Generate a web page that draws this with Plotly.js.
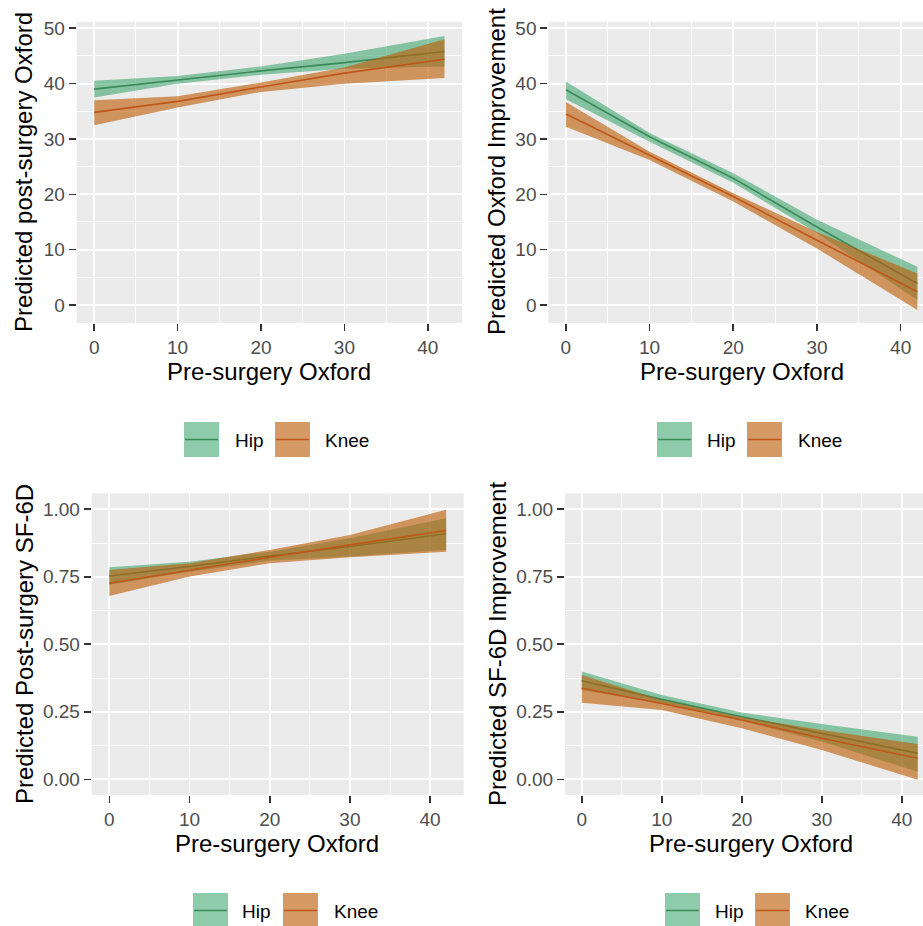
<!DOCTYPE html>
<html>
<head>
<meta charset="utf-8">
<script src="https://cdn.plot.ly/plotly-3.0.1.min.js"></script>
<style>html,body{margin:0;padding:0;background:#fff;}#chart{width:923px;height:926px;}</style>
</head>
<body>
<div id="chart"></div>
<script>
// ---- data ----
const preOxford = [0, 10, 20, 30, 42];

// Panel A: predicted post-surgery Oxford
const postOxHipFit   = [39.0, 40.7, 42.3, 43.8, 45.8];
const postOxHipLow   = [37.5, 40.0, 41.6, 42.7, 43.1];
const postOxHipHigh  = [40.5, 41.4, 43.1, 45.4, 48.6];
const postOxKneeFit  = [34.8, 36.8, 39.4, 41.9, 44.4];
const postOxKneeLow  = [32.5, 35.7, 38.5, 40.0, 41.0];
const postOxKneeHigh = [37.0, 37.7, 40.2, 42.9, 48.0];

// Panel B: predicted Oxford improvement
const impOxHipFit   = [38.9, 30.4, 22.9, 14.1, 3.9];
const impOxHipLow   = [37.2, 29.5, 22.1, 13.0, 0.9];
const impOxHipHigh  = [40.4, 31.1, 23.8, 15.4, 6.9];
const impOxKneeFit  = [34.5, 27.1, 19.6, 11.7, 2.4];
const impOxKneeLow  = [32.2, 26.2, 18.7, 10.2, -0.9];
const impOxKneeHigh = [36.7, 27.7, 20.2, 13.2, 5.7];

// Panel C: predicted post-surgery SF-6D
const postSfHipFit   = [0.753, 0.788, 0.827, 0.862, 0.909];
const postSfHipLow   = [0.720, 0.769, 0.810, 0.825, 0.850];
const postSfHipHigh  = [0.785, 0.806, 0.843, 0.893, 0.967];
const postSfKneeFit  = [0.726, 0.775, 0.822, 0.868, 0.921];
const postSfKneeLow  = [0.679, 0.751, 0.800, 0.822, 0.843];
const postSfKneeHigh = [0.775, 0.800, 0.849, 0.905, 0.998];

// Panel D: predicted SF-6D improvement
const impSfHipFit   = [0.365, 0.296, 0.232, 0.170, 0.096];
const impSfHipLow   = [0.331, 0.281, 0.217, 0.140, 0.028];
const impSfHipHigh  = [0.399, 0.312, 0.247, 0.205, 0.158];
const impSfKneeFit  = [0.337, 0.281, 0.220, 0.152, 0.078];
const impSfKneeLow  = [0.284, 0.257, 0.189, 0.109, -0.002];
const impSfKneeHigh = [0.386, 0.294, 0.230, 0.183, 0.131];

const groups = ["Hip", "Knee"];
const xTitle = "Pre-surgery Oxford";
const yTitles = ["Predicted post-surgery Oxford", "Predicted Oxford Improvement",
                 "Predicted Post-surgery SF-6D", "Predicted SF-6D Improvement"];

// ---- styling ----
const W = 923, H = 926;
const hipFill = "rgba(50,160,100,0.55)", hipLine = "#3b8a5a";
const kneeFill = "rgba(190,95,10,0.63)", kneeLine = "#c0561a";
const FONT = "Liberation Sans, Arial, Helvetica, sans-serif";

function band(x, lo, hi, fill, xa, ya) {
  return {x: x.concat(x.slice().reverse()), y: lo.concat(hi.slice().reverse()),
          type: "scatter", mode: "lines", fill: "toself", fillcolor: fill,
          line: {width: 0, color: fill}, hoverinfo: "skip", showlegend: false, xaxis: xa, yaxis: ya};
}
function fit(x, y, color, xa, ya) {
  return {x: x, y: y, type: "scatter", mode: "lines", line: {color: color, width: 1.6},
          showlegend: false, xaxis: xa, yaxis: ya};
}
const panels = [
  [postOxHipFit, postOxHipLow, postOxHipHigh, postOxKneeFit, postOxKneeLow, postOxKneeHigh],
  [impOxHipFit, impOxHipLow, impOxHipHigh, impOxKneeFit, impOxKneeLow, impOxKneeHigh],
  [postSfHipFit, postSfHipLow, postSfHipHigh, postSfKneeFit, postSfKneeLow, postSfKneeHigh],
  [impSfHipFit, impSfHipLow, impSfHipHigh, impSfKneeFit, impSfKneeLow, impSfKneeHigh]
];
const traces = [];
panels.forEach((p, i) => {
  const xa = i === 0 ? "x" : "x" + (i + 1), ya = i === 0 ? "y" : "y" + (i + 1);
  traces.push(band(preOxford, p[1], p[2], hipFill, xa, ya));
  traces.push(fit(preOxford, p[0], hipLine, xa, ya));
  traces.push(band(preOxford, p[4], p[5], kneeFill, xa, ya));
  traces.push(fit(preOxford, p[3], kneeLine, xa, ya));
});

// pixel -> paper helpers
const px = v => v / W, py = v => 1 - v / H;

function xaxis(d0, d1, r0, r1, yanchor) {
  return {domain: [px(d0), Math.min(1, px(d1))], range: [r0, r1], anchor: yanchor,
    tickmode: "array", tickvals: [0, 10, 20, 30, 40], ticks: "outside", ticklen: 7, tickwidth: 1.6,
    tickcolor: "#333333", tickfont: {size: 19, color: "#4d4d4d", family: FONT},
    showgrid: true, gridcolor: "#ffffff", gridwidth: 1.8, zeroline: false, showline: false,
    minor: {tickmode: "array", tickvals: [5, 15, 25, 35], showgrid: true, gridcolor: "#ffffff", gridwidth: 0.9, ticks: ""},
    fixedrange: true};
}
function yaxis(d0, d1, r0, r1, xanchor, vals, txt, minorVals) {
  return {domain: [py(d1), py(d0)], range: [r0, r1], anchor: xanchor,
    tickmode: "array", tickvals: vals, ticktext: txt, ticks: "outside", ticklen: 7, tickwidth: 1.6,
    tickcolor: "#333333", tickfont: {size: 19, color: "#4d4d4d", family: FONT},
    showgrid: true, gridcolor: "#ffffff", gridwidth: 1.8, zeroline: false, showline: false,
    minor: {tickmode: "array", tickvals: minorVals, showgrid: true, gridcolor: "#ffffff", gridwidth: 0.9, ticks: ""},
    fixedrange: true};
}
const oxVals = [0, 10, 20, 30, 40, 50], oxTxt = oxVals.map(String), oxMinor = [5, 15, 25, 35, 45];
const sfVals = [0, 0.25, 0.5, 0.75, 1], sfTxt = ["0.00", "0.25", "0.50", "0.75", "1.00"], sfMinor = [0.125, 0.375, 0.625, 0.875];

const layout = {
  width: W, height: H, autosize: false,
  margin: {l: 0, r: 0, t: 0, b: 0, pad: 0},
  paper_bgcolor: "#ffffff", plot_bgcolor: "#ebebeb",
  font: {family: FONT, color: "#000"},
  showlegend: false,
  xaxis:  xaxis(76.7, 462, -2.1, 44.1, "y"),
  yaxis:  yaxis(21.7, 323, -3.25, 51.19, "x", oxVals, oxTxt, oxMinor),
  xaxis2: xaxis(548.3, 923, -2.1, 42.67, "y2"),
  yaxis2: yaxis(21.7, 323, -3.25, 51.19, "x2", oxVals, oxTxt, oxMinor),
  xaxis3: xaxis(91.7, 463.8, -2.2, 44.2, "y3"),
  yaxis3: yaxis(493.3, 795, -0.058, 1.059, "x3", sfVals, sfTxt, sfMinor),
  xaxis4: xaxis(565, 923, -2.09, 42.66, "y4"),
  yaxis4: yaxis(493.3, 795, -0.058, 1.059, "x4", sfVals, sfTxt, sfMinor),
  annotations: [], shapes: []
};

// axis titles
const xTitlePos = [[269, 372], [742, 372], [277, 843], [751, 843]];
const yTitlePos = [[24, 172], [497, 172], [24, 644], [497, 644]];
for (let i = 0; i < 4; i++) {
  layout.annotations.push({text: xTitle, xref: "paper", yref: "paper", x: px(xTitlePos[i][0]), y: py(xTitlePos[i][1]),
    xanchor: "center", yanchor: "middle", showarrow: false, font: {size: 24, color: "#000", family: FONT}});
  layout.annotations.push({text: yTitles[i], xref: "paper", yref: "paper", x: px(yTitlePos[i][0]), y: py(yTitlePos[i][1]),
    xanchor: "center", yanchor: "middle", textangle: -90, showarrow: false, font: {size: 24, color: "#000", family: FONT}});
}

// legends (ggplot-style keys: filled square with line)
const legendPos = [
  {y0: 422, hip: 184, hipT: 233, knee: 275, kneeT: 323},
  {y0: 422, hip: 657, hipT: 705, knee: 747, kneeT: 796},
  {y0: 893, hip: 193, hipT: 240, knee: 283, kneeT: 332},
  {y0: 893, hip: 665, hipT: 713, knee: 755, kneeT: 803}
];
const legFill = ["rgba(50,160,100,0.55)", "rgba(190,95,10,0.63)"];
const legLine = [hipLine, kneeLine];
legendPos.forEach(L => {
  [[L.hip, L.hipT], [L.knee, L.kneeT]].forEach((k, g) => {
    layout.shapes.push({type: "rect", xref: "paper", yref: "paper", x0: px(k[0]), x1: px(k[0] + 35),
      y0: py(L.y0 + 35), y1: py(L.y0), fillcolor: legFill[g], line: {width: 0}});
    layout.shapes.push({type: "line", xref: "paper", yref: "paper", x0: px(k[0] + 1), x1: px(k[0] + 34),
      y0: py(L.y0 + 17.5), y1: py(L.y0 + 17.5), line: {color: legLine[g], width: 1.6}});
    layout.annotations.push({text: groups[g], xref: "paper", yref: "paper", x: px(k[1]), y: py(L.y0 + 18),
      xanchor: "left", yanchor: "middle", showarrow: false, font: {size: 19, color: "#000", family: FONT}});
  });
});

Plotly.newPlot("chart", traces, layout, {displayModeBar: false, staticPlot: true});
</script>
</body>
</html>
